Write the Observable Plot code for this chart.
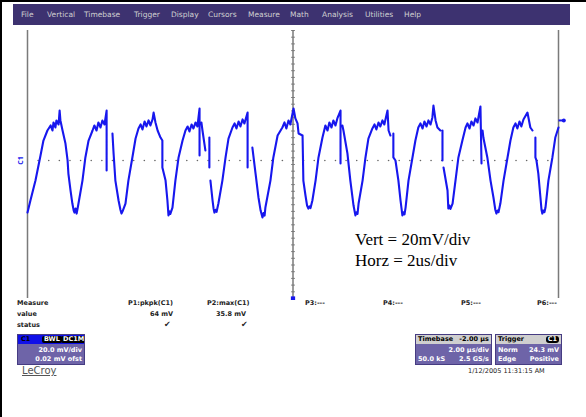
<!DOCTYPE html>
<html><head><meta charset="utf-8">
<script src="https://cdn.jsdelivr.net/npm/d3@7"></script>
<script src="https://cdn.jsdelivr.net/npm/@observablehq/plot@0.6"></script>
<style>
html,body{margin:0;padding:0;background:#fff;}
#page{position:relative;width:586px;height:417px;overflow:hidden;font-family:"DejaVu Sans",sans-serif;background:#fff;}
#page svg{position:absolute;left:0;top:0;}
.abs{position:absolute;white-space:nowrap;}
#bar{left:13px;top:4px;width:557px;height:21px;background:#3d3270;}
.mi{position:absolute;top:6px;font-size:7.5px;color:#d0d0d0;}
.mt{font-size:6.5px;font-weight:bold;color:#222;}
.box{position:absolute;height:31px;background:#6e64a8;border:1px solid #463c82;box-sizing:border-box;overflow:hidden;}
.hd{position:absolute;left:0;top:0;right:0;height:9px;font-size:6.5px;font-weight:bold;line-height:9px;}
.ln{position:absolute;left:2px;right:2px;font-size:6.5px;font-weight:bold;color:#fff;line-height:8px;}
#note{left:355px;top:229px;font-family:"Liberation Serif",serif;font-size:17px;line-height:21px;color:#000;}
</style></head>
<body>
<div id="page">
  <div class="abs" style="left:0;top:0;width:2px;height:417px;background:#000"></div>
  <div class="abs" style="left:0;top:0;width:586px;height:2px;background:#000"></div>
  <div id="bar" class="abs">
    <span class="mi" style="left:8px">File</span>
    <span class="mi" style="left:34px">Vertical</span>
    <span class="mi" style="left:71px">Timebase</span>
    <span class="mi" style="left:121px">Trigger</span>
    <span class="mi" style="left:158px">Display</span>
    <span class="mi" style="left:195px">Cursors</span>
    <span class="mi" style="left:235px">Measure</span>
    <span class="mi" style="left:277px">Math</span>
    <span class="mi" style="left:309px">Analysis</span>
    <span class="mi" style="left:352px">Utilities</span>
    <span class="mi" style="left:391px">Help</span>
  </div>
  <div id="chart"></div>
  <div id="note" class="abs">Vert = 20mV/div<br>Horz = 2us/div</div>

  <div class="abs mt" style="left:17px;top:299px">Measure</div>
  <div class="abs mt" style="left:17px;top:310px">value</div>
  <div class="abs mt" style="left:17px;top:321px">status</div>
  <div class="abs mt" style="left:128px;top:299px">P1:pkpk(C1)</div>
  <div class="abs mt" style="left:207px;top:299px">P2:max(C1)</div>
  <div class="abs mt" style="left:150px;top:310px">64 mV</div>
  <div class="abs mt" style="left:216px;top:310px">35.8 mV</div>
  <div class="abs mt" style="left:164px;top:320px;font-size:8px">✔</div>
  <div class="abs mt" style="left:241px;top:320px;font-size:8px">✔</div>
  <div class="abs mt" style="left:305px;top:299px">P3:---</div>
  <div class="abs mt" style="left:383px;top:299px">P4:---</div>
  <div class="abs mt" style="left:461px;top:299px">P5:---</div>
  <div class="abs mt" style="left:537px;top:299px">P6:---</div>

  <div class="box" style="left:17px;top:334px;width:68px">
    <div class="hd" style="background:#1010e8;color:#000">
      <span style="position:absolute;left:3px">C1</span>
      <span style="position:absolute;left:24px;top:1px;height:7px;line-height:7px;background:#000;color:#fff;padding:0 2px;border-radius:2px">BWL</span>
      <span style="position:absolute;left:43px;top:1px;height:7px;line-height:7px;background:#000;color:#fff;padding:0 2px;border-radius:2px">DC1M</span>
    </div>
    <div class="ln" style="top:11px;text-align:right">20.0 mV/div</div>
    <div class="ln" style="top:20px;text-align:right">0.02 mV ofst</div>
  </div>
  <div class="box" style="left:415px;top:334px;width:77px">
    <div class="hd" style="background:#cfcfcf;color:#000">
      <span style="position:absolute;left:2px">Timebase</span>
      <span style="position:absolute;right:2px">-2.00 µs</span>
    </div>
    <div class="ln" style="top:11px;text-align:right">2.00 µs/div</div>
    <div class="ln" style="top:20px"><span>50.0 kS</span><span style="position:absolute;right:0">2.5 GS/s</span></div>
  </div>
  <div class="box" style="left:495px;top:334px;width:67px">
    <div class="hd" style="background:#cfcfcf;color:#000">
      <span style="position:absolute;left:2px">Trigger</span>
      <span style="position:absolute;right:2px;top:1px;height:7px;line-height:7px;background:#000;color:#fff;padding:0 2px;border-radius:3px">C1</span>
    </div>
    <div class="ln" style="top:11px"><span>Norm</span><span style="position:absolute;right:0">24.3 mV</span></div>
    <div class="ln" style="top:20px"><span>Edge</span><span style="position:absolute;right:0">Positive</span></div>
  </div>
  <div class="abs" style="left:22px;top:365px;font-size:10px;color:#555;text-decoration:underline">LeCroy</div>
  <div class="abs mt" style="left:468px;top:367px;font-weight:normal;font-size:6.5px">1/12/2005 11:31:15 AM</div>
</div>
<script>
// Trace: [time µs, voltage mV]; null entries are gaps in the trace
const trace = [
 [0,-28.7],[0.11,-21.5],[0.30,-9.6],[0.49,5.4],[0.60,14.3],[0.75,20.3],[0.87,23.3],[0.94,20.3],[0.98,25.1],[1.05,22.1],[1.09,26.3],[1.17,23.9],[1.21,32.2],[1.24,26.3],[1.32,20.3],[1.43,12.5],[1.51,2.4],[1.54,-5.4],[1.62,-15.5],[1.69,-23.3],[1.74,-27.5],[1.77,-28.7],[1.81,-26.3],[1.85,-29.3],[1.89,-26.0],[1.92,-23.3],
 [2.07,-9.6],[2.18,4.2],[2.30,14.3],[2.45,20.3],[2.52,23.3],[2.60,20.3],[2.67,25.1],[2.75,22.1],[2.82,26.3],[2.90,23.9],[2.98,32.2],[2.98,-3.6],[null,null],
 [3.20,18.5],[3.24,7.2],[3.31,-9.6],[3.43,-21.5],[3.50,-27.0],[3.54,-29.3],[3.58,-28.0],[3.62,-26.3],[3.69,-23.3],[3.80,-9.6],[3.95,4.2],[4.07,15.5],[4.18,21.5],[4.26,23.9],[4.33,20.9],[4.41,25.7],[4.48,22.7],[4.56,26.3],[4.63,23.3],[4.71,26.9],[4.75,31.0],[4.82,25.1],[4.90,20.3],[5.01,16.1],[5.08,14.3],[5.08,-1.8],
 [5.20,-9.6],[5.27,-21.5],[5.31,-30.4],[5.35,-28.0],[5.38,-29.5],[5.46,-25.7],[5.57,-9.6],[5.69,4.2],[5.84,14.3],[5.95,20.3],[6.03,22.7],[6.10,19.7],[6.18,23.9],[6.25,21.5],[6.33,25.1],[6.40,22.7],[6.48,33.4],[6.48,5.4],[null,null],
 [6.55,25.1],[6.59,20.3],[6.70,8.4],[null,null],[6.85,16.1],[6.85,-1.8],[null,null],
 [6.89,-9.6],[6.97,-21.5],[7.01,-26.5],[7.04,-28.7],[7.08,-27.0],[7.12,-28.3],[7.19,-23.3],[7.34,-9.6],[7.46,4.2],[7.57,15.5],[7.72,22.1],[7.80,24.5],[7.87,21.5],[7.95,25.7],[8.02,22.7],[8.10,26.9],[8.17,24.5],[8.29,31.0],[8.29,-1.8],[null,null],
 [8.47,10.1],[8.59,-5.4],[8.70,-19.7],[8.78,-27.5],[8.85,-31.6],[8.89,-29.0],[8.93,-30.5],[8.96,-25.7],[9.15,-9.6],[9.26,4.2],[9.42,17.3],[9.60,22.1],[9.68,25.1],[9.75,21.5],[9.83,26.3],[9.90,23.9],[10.02,33.4],[10.09,27.5],[10.17,24.5],[10.21,18.5],[10.36,17.3],[10.39,-9.6],
 [10.47,-18.5],[10.53,-24.5],[10.58,-26.3],[10.62,-25.0],[10.66,-26.0],[10.73,-21.5],[10.85,-9.6],[10.96,4.2],[11.11,16.1],[11.22,23.3],[11.30,20.3],[11.37,25.1],[11.45,22.1],[11.52,26.3],[11.60,23.3],[11.67,27.5],[11.79,32.2],[11.79,0.6],[null,null],
 [11.86,23.3],[11.90,20.3],[12.05,6.6],[12.16,-9.6],[12.28,-24.5],[12.35,-30.4],[12.39,-28.5],[12.43,-29.5],[12.47,-23.3],[12.62,-9.6],[12.73,4.2],[12.84,15.5],[12.99,21.5],[13.07,23.9],[13.14,20.9],[13.22,25.1],[13.29,22.7],[13.37,26.3],[13.44,23.9],[13.56,32.2],[13.60,20.3],[13.67,17.3],[null,null],
 [13.78,18.5],[13.78,4.2],[13.86,2.4],[13.97,-9.6],[14.05,-21.5],[14.12,-30.4],[14.16,-28.5],[14.20,-29.8],[14.24,-25.7],[14.35,-9.6],[14.50,4.2],[14.61,14.3],[14.72,22.1],[14.80,24.5],[14.88,21.5],[14.95,25.7],[15.03,22.7],[15.10,26.3],[15.18,23.9],[15.25,28.1],[15.29,35.2],[15.37,26.3],[15.44,22.1],[15.55,20.3],[null,null],
 [15.63,20.3],[15.63,2.4],[null,null],
 [15.67,-1.8],[15.82,-15.5],[15.85,-26.3],[15.89,-24.5],[15.93,-26.5],[16.01,-23.3],[16.12,-9.6],[16.23,4.2],[16.38,14.3],[16.50,22.1],[16.57,24.5],[16.65,21.5],[16.72,25.7],[16.80,23.3],[16.87,27.5],[16.95,25.1],[17.06,34.6],[17.10,0.6],[null,null],
 [17.14,20.3],[17.17,16.1],[17.32,4.2],[17.44,-9.6],[17.55,-19.7],[17.62,-27.0],[17.66,-29.3],[17.70,-27.5],[17.74,-28.5],[17.81,-23.3],[17.93,-9.6],[18.08,4.2],[18.19,14.3],[18.30,22.1],[18.38,24.5],[18.45,21.5],[18.53,25.7],[18.60,22.7],[18.68,26.9],[18.83,31.0],[18.94,22.1],[19.02,20.3],[null,null],
 [19.13,16.1],[19.13,4.2],[19.17,2.4],[19.24,-5.4],[19.32,-19.7],[19.36,-27.0],[19.39,-29.3],[19.43,-27.5],[19.47,-28.5],[19.51,-25.7],[19.62,-9.6],[19.77,4.2],[19.88,16.1],[20.00,22.1]
];
const timeDomain = [0, 20];        // µs, 2 µs/div x 10 div
const voltDomain = [-80, 80];      // mV, 20 mV/div x 8 div
const gridLines = [0, 10, 20];     // µs
const centerTicks = d3.range(-80, 80.01, 4);  // mV, minor ticks every 0.2 div
const groundDots = d3.range(0.4, 19.7, 0.4);  // µs, dotted ground-level line
const groundLevel = 2.4;   // mV
const triggerLevel = 26.3; // mV
const triggerTime = 10;    // µs

const blue = "#1717ee";
const chart = Plot.plot({
  width: 586, height: 300,
  marginLeft: 27, marginRight: 28, marginTop: 30, marginBottom: 2,
  x: {domain: timeDomain, axis: null},
  y: {domain: voltDomain, axis: null},
  marks: [
    Plot.ruleX(gridLines, {stroke: "#7a7a7a", strokeWidth: 1.5}),
    Plot.link(centerTicks, {x1: 9.93, x2: 10.07, y1: d => d, y2: d => d, stroke: "#7a7a7a", strokeWidth: 1}),
    Plot.dot(groundDots, {x: d => d, y: groundLevel, r: 0.8, fill: "#666", stroke: null}),
    Plot.line(trace, {x: d => d[0], y: d => d[1], stroke: blue, strokeWidth: 2.1, strokeLinejoin: "round"}),
    Plot.text(["C1"], {x: timeDomain[0], y: groundLevel, dx: -7, rotate: -90, fill: blue, fontSize: 7, fontWeight: "bold"}),
    Plot.link([triggerLevel], {x1: 20, x2: 20.2, y1: d => d, y2: d => d, stroke: blue, strokeWidth: 2}),
    Plot.dot([triggerLevel], {x: 20.2, y: d => d, r: 2, fill: blue, stroke: null}),
    Plot.dot([triggerTime], {x: d => d, y: voltDomain[0], symbol: "square", r: 2.4, fill: blue, stroke: null})
  ]
});
document.getElementById("chart").appendChild(chart);
</script>
</body></html>
